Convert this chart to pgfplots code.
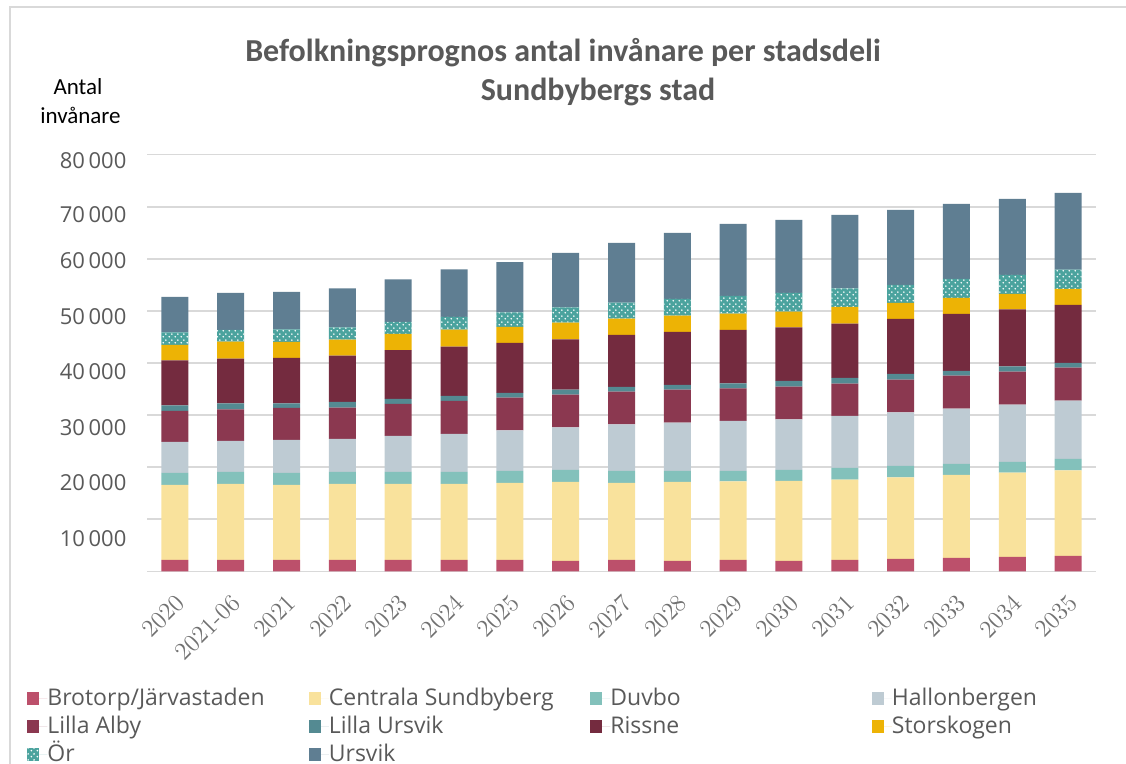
\documentclass[border=0pt]{standalone}
\usepackage{pgfplots}
\pgfplotsset{compat=1.18}
\usepackage{pgfplotstable}
\usepackage{fontspec}
\usetikzlibrary{patterns}
\newfontfamily\osans{Open Sans}
\newfontfamily\carlito{Carlito}
\definecolor{cBro}{HTML}{BC506B}
\definecolor{cCen}{HTML}{F9E29C}
\definecolor{cDuv}{HTML}{83C1BB}
\definecolor{cHal}{HTML}{BECBD3}
\definecolor{cLAl}{HTML}{8B3850}
\definecolor{cLUr}{HTML}{548A92}
\definecolor{cRis}{HTML}{742B3F}
\definecolor{cSto}{HTML}{EDB305}
\definecolor{cOr}{HTML}{4BA39E}
\definecolor{cUrs}{HTML}{5F7E92}
\definecolor{gridgray}{HTML}{D9D9D9}
\definecolor{tickgray}{HTML}{595959}
\pgfdeclarepatternformonly{ordots}{\pgfqpoint{0pt}{0pt}}{\pgfqpoint{3pt}{3pt}}{\pgfqpoint{3pt}{3pt}}{%
  \pgfpathcircle{\pgfqpoint{0.75pt}{0.75pt}}{0.5pt}\pgfusepath{fill}%
  \pgfpathcircle{\pgfqpoint{2.25pt}{2.25pt}}{0.5pt}\pgfusepath{fill}}

\pgfplotstableread{
x Bro Cen Duv Hal LAl LUr Ris Sto Or Urs
0 2180 14400 2310 5950 5950 1090 8640 2950 2430 6790
1 2180 14590 2310 5950 6080 1160 8580 3260 2240 7110
2 2180 14400 2310 6330 6150 900 8700 3080 2430 7170
3 2180 14590 2310 6340 6010 1090 8900 3070 2370 7490
4 2180 14590 2310 6910 6150 960 9350 3130 2310 8190
5 2180 14590 2310 7300 6330 970 9470 3260 2440 9150
6 2180 14790 2300 7810 6270 900 9600 3080 2810 9610
7 1980 15180 2300 8200 6270 960 9670 3200 2940 10440
8 2180 14790 2300 8960 6280 890 9990 3140 3070 11460
9 1980 15180 2110 9280 6340 900 10180 3130 3200 12680
10 2180 15110 1980 9600 6280 960 10240 3140 3390 13830
11 1980 15370 2110 9730 6280 1090 10300 3010 3590 14020
12 2180 15430 2240 9980 6210 1090 10440 3200 3580 14090
13 2370 15680 2180 10310 6270 1090 10560 3080 3450 14410
14 2560 15940 2110 10630 6340 900 10940 3080 3650 14400
15 2750 16200 2050 11010 6340 1020 10950 2950 3640 14600
16 2940 16460 2170 11210 6340 890 11140 3070 3720 14720
}\data

\newcommand{\legtxt}[1]{\makebox[130.75pt][l]{#1}}

\begin{document}
\begin{tikzpicture}[x=1pt,y=1pt]
\useasboundingbox (0,0) rectangle (563,382);
\draw[gridgray, line width=0.6pt] (5,0) -- (5,378.5) -- (563,378.5);
\begin{axis}[
  at={(73.5pt,96.35pt)}, anchor=south west,
  scale only axis, width=474.5pt, height=208.3pt,
  ybar stacked, bar width=13.5pt,
  xmin=-0.5, xmax=16.5, ymin=0, ymax=80000,
  xtick={0,...,16},
  xticklabels={2020,2021-06,2021,2022,2023,2024,2025,2026,2027,2028,2029,2030,2031,2032,2033,2034,2035},
  xtick style={draw=none},
  ytick={0,10000,...,80000},
  yticklabels={,,,,,,,,},
  ytick style={draw=none},
  ymajorgrids, grid style={gridgray, line width=0.75pt},
  axis line style={draw=none},
  scaled y ticks=false,
  extra y ticks={6260,16960,27670,38410,48970,59680,68520,78890},
  extra y tick labels={10\,000,20\,000,30\,000,40\,000,50\,000,60\,000,70\,000,80\,000},
  extra y tick style={grid=none, tick style={draw=none}},
  xticklabel style={rotate=45, anchor=north east, font=\fontsize{12.3}{13}\selectfont, text=tickgray!85, xshift=-4.5pt, yshift=-4pt},
  yticklabel style={font=\osans\fontsize{11}{12}\selectfont, text=tickgray, xshift=-6.8pt},
  legend columns=4,
  legend style={at={(-0.12645,-0.2717)}, anchor=north west, draw=none, fill=none,
    font=\osans\fontsize{11.5}{13}\selectfont, text=tickgray,
    column sep=0pt, row sep=0pt, inner sep=0pt,
    nodes={inner sep=0pt, text height=10.5pt, text depth=3.5pt}},
  legend cell align=left,
  legend image code/.code={\path (0pt,0pt) -- (10pt,0pt);
     \fill[#1] (0pt,-3.25pt) rectangle (6pt,3.25pt);},
]
\addplot[fill=cBro, draw=none] table[x=x,y=Bro]{\data};
\addplot[fill=cCen, draw=none] table[x=x,y=Cen]{\data};
\addplot[fill=cDuv, draw=none] table[x=x,y=Duv]{\data};
\addplot[fill=cHal, draw=none] table[x=x,y=Hal]{\data};
\addplot[fill=cLAl, draw=none] table[x=x,y=LAl]{\data};
\addplot[fill=cLUr, draw=none] table[x=x,y=LUr]{\data};
\addplot[fill=cRis, draw=none] table[x=x,y=Ris]{\data};
\addplot[fill=cSto, draw=none] table[x=x,y=Sto]{\data};
\addplot[fill=cOr, draw=none, postaction={pattern=ordots, pattern color=white}] table[x=x,y=Or]{\data};
\addplot[fill=cUrs, draw=none] table[x=x,y=Urs]{\data};
\legend{\legtxt{Brotorp/Järvastaden},\legtxt{Centrala Sundbyberg},\legtxt{Duvbo},\legtxt{Hallonbergen},
        \legtxt{Lilla Alby},\legtxt{Lilla Ursvik},\legtxt{Rissne},\legtxt{Storskogen},\legtxt{Ör},\legtxt{Ursvik}}
\end{axis}
\node[font=\carlito\bfseries\fontsize{16}{19}\selectfont, text=tickgray, anchor=base] at (281.5,351.35) {Befolkningsprognos antal invånare per stadsdeli};
\node[font=\carlito\bfseries\fontsize{16}{19}\selectfont, text=tickgray, anchor=base] at (299,331.5) {Sundbybergs stad};
\node[font=\carlito\fontsize{11.5}{14}\selectfont, anchor=base] at (39,334.5) {Antal};
\node[font=\carlito\fontsize{11.5}{14}\selectfont, anchor=base] at (40.25,320) {invånare};
\end{tikzpicture}
\end{document}
